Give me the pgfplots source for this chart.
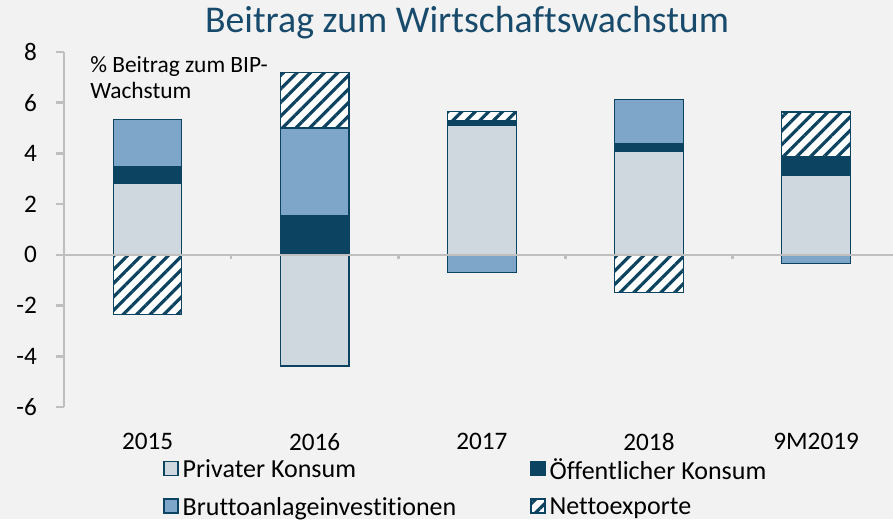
\documentclass[border=0pt]{standalone}
\usepackage{pgfplots}
\pgfplotsset{compat=1.18}
\usetikzlibrary{patterns.meta}
\usepackage{fontspec}
\setmainfont{Carlito}[Ligatures=NoCommon]
\definecolor{bg}{HTML}{F2F2F2}
\definecolor{privat}{HTML}{D0D8DF}
\definecolor{staat}{HTML}{0C4361}
\definecolor{invest}{HTML}{7EA6C9}
\definecolor{achse}{HTML}{BFBFBF}
\definecolor{titel}{HTML}{174A6B}

\pgfplotsset{
  common/.style={
    scale only axis,
    width=414.5pt, height=177.5pt,
    xmin=-0.5, xmax=4.46,
    ymin=-6, ymax=8,
    bar width=0.41,
    clip=false,
  },
  seg/.style={draw=staat, line width=0.6pt},
  hatch/.style={seg, fill=white,
    postaction={pattern={Lines[angle=45,distance=4.8pt,line width=1.6pt]}, pattern color=staat}},
}

\begin{document}
\begin{tikzpicture}
\fill[bg] (-32pt,-56pt) rectangle (414.5pt,203.5pt);
\useasboundingbox (-32pt,-56pt) rectangle (414.5pt,203.5pt);

% positive Beitraege
\begin{axis}[common,
  ybar stacked,
  axis y line=left,
  axis x line=bottom,
  x axis line style={draw=none},
  y axis line style={-, draw=achse, line width=1.3pt},
  ytick={-6,-4,...,8},
  xtick={0,1,2,3,4},
  xticklabels={2015,2016,2017,2018,9M2019},
  major x tick style={draw=none},
  major y tick style={draw=achse, line width=1.3pt},
  tick align=outside,
  major tick length=4pt,
  tick label style={font=\fontsize{12.6}{14}\selectfont},
  /pgf/number format/assume math mode=true,
  xticklabel style={yshift=-5.5pt},
  yticklabel style={xshift=-6pt},
  legend columns=2,
  legend cell align=left,
  legend style={at={(0.486,0)}, anchor=north, yshift=-21.5pt, draw=none, fill=none,
    font=\fontsize{13}{14}\selectfont,
    /tikz/every even column/.append style={column sep=35pt},
    row sep=3.5pt},
  legend image code/.code={\draw[#1, line width=0.6pt] (0pt,-2.6pt) rectangle (7pt,4.4pt);},
]
\addplot[seg, fill=privat] coordinates {(0,2.8) (1,0) (2,5.1) (3,4.08) (4,3.13)};
\addlegendentry{Privater Konsum}
\addplot[seg, fill=staat] coordinates {(0,0.67) (1,1.54) (2,0.2) (3,0.3) (4,0.75)};
\addlegendentry{Öffentlicher Konsum}
\addplot[seg, fill=invest] coordinates {(0,1.86) (1,3.46) (2,0) (3,1.74) (4,0)};
\addlegendentry{Bruttoanlageinvestitionen}
\addplot[hatch] coordinates {(0,0) (1,2.2) (2,0.36) (3,0) (4,1.75)};
\addlegendentry{Nettoexporte}
\node[anchor=north west, align=left, font=\fontsize{11.7}{13}\selectfont, inner sep=0pt]
  at (axis cs:-0.345,7.85) {\% Beitrag zum BIP-\\Wachstum};
\end{axis}

% negative Beitraege
\begin{axis}[common,
  ybar, bar shift=0pt,
  hide axis,
]
\addplot[seg, fill=privat] coordinates {(1,-4.38)};
\addplot[seg, fill=invest] coordinates {(2,-0.7) (4,-0.33)};
\addplot[hatch] coordinates {(0,-2.35) (3,-1.5)};
\draw[achse, line width=1.3pt] (axis cs:-0.5,0) -- (axis cs:4.46,0);
\draw[achse, line width=1.3pt] (axis cs:0.5,0) -- (axis cs:0.5,-0.16);
\draw[achse, line width=1.3pt] (axis cs:1.5,0) -- (axis cs:1.5,-0.16);
\draw[achse, line width=1.3pt] (axis cs:2.5,0) -- (axis cs:2.5,-0.16);
\draw[achse, line width=1.3pt] (axis cs:3.5,0) -- (axis cs:3.5,-0.16);
\end{axis}

\node[font=\fontsize{18.9}{20}\selectfont, text=titel] at (201.5pt,192pt) {Beitrag zum Wirtschaftswachstum};
\end{tikzpicture}
\end{document}
